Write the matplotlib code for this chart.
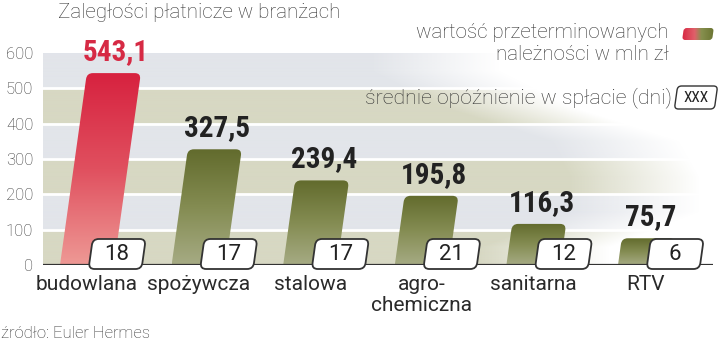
import numpy as np
import matplotlib
matplotlib.use("Agg")
import matplotlib.pyplot as plt
from matplotlib.patches import FancyBboxPatch
from matplotlib.transforms import Affine2D
from matplotlib.colors import LinearSegmentedColormap, to_rgb

# arrears by industry
categories = ["budowlana", "spożywcza", "stalowa", "agro-\nchemiczna", "sanitarna", "RTV"]
values = [543.1, 327.5, 239.4, 195.8, 116.3, 75.7]   # mln zł
delays = [18, 17, 17, 21, 12, 6]                      # days
yticks = [0, 100, 200, 300, 400, 500, 600]

title = "Zaległości płatnicze w branżach"
legend_value = "wartość przeterminowanych\nnależności w mln zł"
legend_delay = "średnie opóźnienie w spłacie (dni)"
source = "źródło: Euler Hermes"

LIGHT = dict(family=["Roboto", "DejaVu Sans"], weight="light", color="#333333")
NARROW = ["Roboto Condensed", "Roboto", "DejaVu Sans"]

RED = LinearSegmentedColormap.from_list("red", ["#ee9995", "#e0505f", "#d7223f"])
GREEN = LinearSegmentedColormap.from_list("green", ["#a6ab84", "#848c52", "#626b2d"])
SWATCH = LinearSegmentedColormap.from_list(
    "sw", [(0, "#d7223f"), (0.4, "#e0606a"), (0.6, "#87904f"), (1, "#68722f")])

W, H = 720, 345
fig = plt.figure(figsize=(W / 100, H / 100), dpi=100)
ax = fig.add_axes([43 / W, 80 / H, 670 / W, 212 / H])

px_x = 111.6          # pixels per category step
px_y = 212 / 600      # pixels per mln zł
x_lo, x_hi = -44 / px_x, 626 / px_x
k = 0.14 * px_y / px_x          # slant of the bars
asp = px_x / px_y
skew = Affine2D().skew(np.arctan(k), 0)

# striped background fading out towards the right
nx, ny = 670, 600
xs = np.linspace(43, 713, nx)
vs = np.linspace(0, 600, ny)
band = np.clip((vs // 100).astype(int), 0, 5)
beige, grey = np.array(to_rgb("#d7d8c3")), np.array(to_rgb("#e2e5ea"))
rgb = np.where((band % 2 == 0)[:, None], beige, grey)
fade_end = np.interp(vs, [50, 150, 250, 350, 450, 550], [610, 700, 700, 680, 570, 500])
alpha = np.clip((fade_end[:, None] - xs[None, :]) / 130, 0, 1)
bg = np.dstack([np.broadcast_to(rgb[:, None, :], (ny, nx, 3)), alpha])
ax.imshow(bg, extent=[x_lo, x_hi, 0, 600], origin="lower", aspect="auto",
          interpolation="bilinear", zorder=0)
for y in yticks[1:-1]:
    ax.axhline(y, color="white", lw=2, zorder=1)

grad = np.linspace(0, 1, 256).reshape(-1, 1)
bar_w = 54 / px_x
r = 6 / px_x
for i, v in enumerate(values):
    x0 = i - bar_w / 2
    ext = r * asp
    shape = FancyBboxPatch((x0, -ext), bar_w, v + ext,
                           boxstyle=f"round,pad=0,rounding_size={r}",
                           mutation_aspect=asp, transform=skew + ax.transData,
                           facecolor="none", edgecolor="none")
    ax.add_patch(shape)
    im = ax.imshow(grad, cmap=RED if i == 0 else GREEN, origin="lower",
                   extent=[x0, x0 + bar_w + k * v, 0, v], aspect="auto", zorder=2)
    im.set_clip_path(shape)

    label = f"{v:.1f}".replace(".", ",")
    ax.annotate(label, xy=(i + k * v + 0.02, v), xytext=(0, 9.5), textcoords="offset points",
                ha="center", va="baseline", fontsize=21, family=NARROW, weight="bold",
                color="#d62a44" if i == 0 else "#222222", zorder=5)

    ax.annotate(categories[i], xy=(i, 0), xytext=(0, -7), textcoords="offset points",
                ha="center", va="top", fontsize=15, family=["Roboto", "DejaVu Sans"],
                color="#2a2a2a", linespacing=1.15)

ax.axhline(0, color="#333333", lw=1.6, zorder=4)

# day boxes sitting on the baseline
box_w = 53 / px_x
box_h = 30 / px_y
cy = 11 / px_y
for i, d in enumerate(delays):
    cx = i + 0.27
    t = Affine2D().translate(0, -cy).skew(np.arctan(k), 0).translate(0, cy)
    box = FancyBboxPatch((cx - box_w / 2, cy - box_h / 2), box_w, box_h,
                         boxstyle=f"round,pad=0,rounding_size={r}", mutation_aspect=asp,
                         transform=t + ax.transData, facecolor="white",
                         edgecolor="#333333", lw=1.3, zorder=5, clip_on=False)
    ax.add_patch(box)
    ax.text(cx, cy, str(d), ha="center", va="center", fontsize=16,
            family=["Roboto", "DejaVu Sans"], color="#222222", zorder=6)

ax.set_xlim(x_lo, x_hi)
ax.set_ylim(0, 600)
ax.set_xticks([])
ax.set_yticks(yticks)
ax.set_yticklabels([str(t) for t in yticks], fontsize=12, **LIGHT)
ax.tick_params(axis="y", length=0, pad=7)
for s in ax.spines.values():
    s.set_visible(False)

# legend
fig.text(669 / W, 1 - 43 / H, legend_value, ha="right", va="center", ma="right",
         fontsize=14.8, linespacing=1.2, **LIGHT)

# red/green swatch in its own little axes
sax = fig.add_axes([681 / W, 1 - 41 / H, 34 / W, 14 / H])
sax.set_xlim(0, 34)
sax.set_ylim(0, 14)
sax.axis("off")
sw = FancyBboxPatch((1, 1), 30, 12, boxstyle="round,pad=0,rounding_size=3",
                    transform=Affine2D().skew(np.arctan(0.14), 0) + sax.transData,
                    facecolor="none", edgecolor="none")
sax.add_patch(sw)
sim = sax.imshow(np.linspace(0, 1, 256).reshape(1, -1), cmap=SWATCH,
                 extent=[0, 34, 0, 14], aspect="auto")
sim.set_clip_path(sw)

fig.text(672 / W, 1 - 98 / H, legend_delay, ha="right", va="center", fontsize=15.3, **LIGHT)
bx0, bx1 = (676 - 87) / px_x, (716 - 87) / px_x
by0, by1 = (265 - 109) / px_y, (265 - 86) / px_y
bcy = (by0 + by1) / 2
bt = Affine2D().translate(0, -bcy).skew(np.arctan(k), 0).translate(0, bcy)
ax.add_patch(FancyBboxPatch((bx0, by0), bx1 - bx0, by1 - by0,
                            boxstyle=f"round,pad=0,rounding_size={4 / px_x}",
                            mutation_aspect=asp, transform=bt + ax.transData,
                            facecolor="white", edgecolor="#333333", lw=1, clip_on=False))
ax.text((bx0 + bx1) / 2, bcy, "XXX", ha="center", va="center", fontsize=11,
        family=NARROW, color="#222222")

ax.set_xlim(x_lo, x_hi)
ax.set_ylim(0, 600)

fig.text(58 / W, 1 - 13 / H, title, ha="left", va="center", fontsize=14.8, **LIGHT)
fig.text(1 / W, 1 - 333 / H, source, ha="left", va="center", fontsize=12, **LIGHT)

fig.savefig("out.png", dpi=100)
